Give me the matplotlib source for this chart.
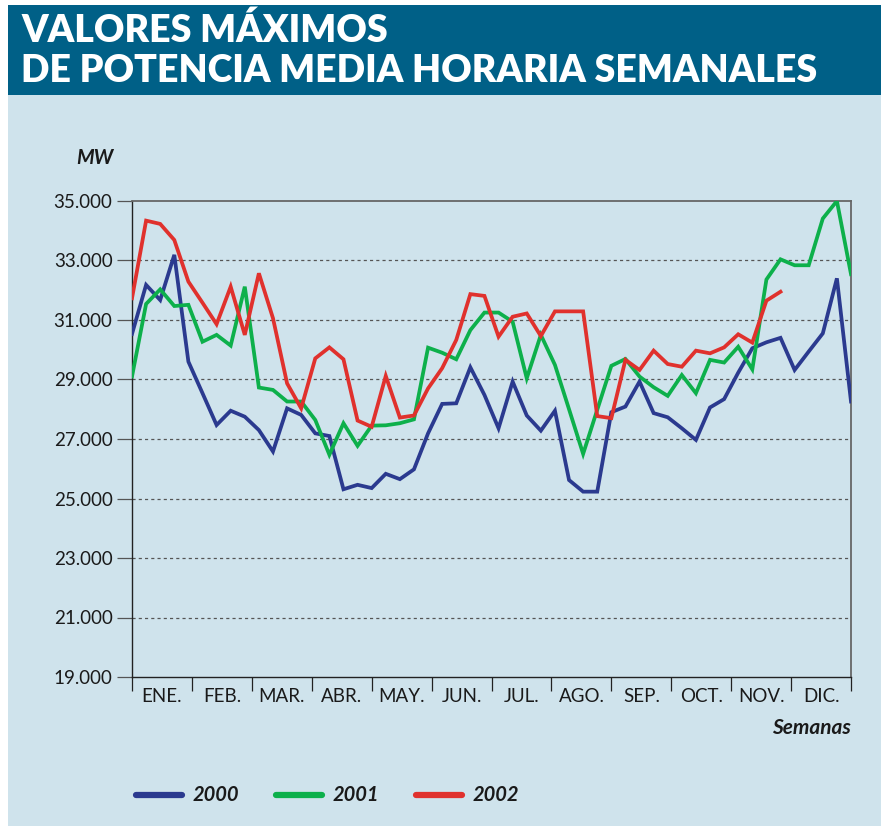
import matplotlib
matplotlib.use("Agg")
import matplotlib.pyplot as plt
from matplotlib.patches import Rectangle
from matplotlib.lines import Line2D
import numpy as np

W, H = 888, 826
OUTPUT = "out.png"

TITLE_1 = "VALORES MÁXIMOS"
TITLE_2 = "DE POTENCIA MEDIA HORARIA SEMANALES"
MONTHS = ["ENE.", "FEB.", "MAR.", "ABR.", "MAY.", "JUN.", "JUL.", "AGO.",
          "SEP.", "OCT.", "NOV.", "DIC."]
Y_TICKS = [19000, 21000, 23000, 25000, 27000, 29000, 31000, 33000, 35000]

# weekly maxima (MW)
mw_2000 = [30530, 32180, 31670, 33190, 29600, 28540, 27470, 27950, 27750, 27300,
           26580, 28030, 27810, 27190, 27100, 25310, 25460, 25350, 25830, 25650,
           25980, 27190, 28180, 28200, 29410, 28480, 27360, 28930, 27790, 27280,
           27950, 25620, 25230, 25230, 27900, 28090, 28930, 27870, 27730, 27360,
           26970, 28060, 28340, 29230, 30050, 30250, 30400, 29320, 29940, 30550,
           32400, 28260]
mw_2001 = [29100, 31540, 32030, 31470, 31510, 30270, 30500, 30140, 32120, 28730,
           28650, 28260, 28260, 27640, 26470, 27530, 26770, 27450, 27460, 27530,
           27660, 30070, 29900, 29680, 30660, 31250, 31250, 30940, 29040, 30500,
           29490, 28000, 26500, 27980, 29460, 29690, 29100, 28740, 28450, 29150,
           28540, 29660, 29570, 30100, 29340, 32360, 33040, 32840, 32840, 34410,
           35000, 32540]
mw_2002 = [31730, 34340, 34230, 33690, 32290, 31580, 30860, 32120, 30500, 32570,
           31060, 28870, 28030, 29710, 30080, 29680, 27620, 27410, 29120, 27720,
           27790, 28700, 29380, 30330, 31870, 31810, 30440, 31110, 31220, 30460,
           31290, 31290, 31290, 27770, 27700, 29660, 29320, 29970, 29520, 29430,
           29970, 29880, 30080, 30520, 30240, 31650, 31950]

SERIES = [("2000", mw_2000, "#2b3a8f"), ("2001", mw_2001, "#0db04b"),
          ("2002", mw_2002, "#e0312d")]

BG = "#cfe3ec"
BANNER = "#006087"
FONT = "Lato"


def fx(x):
    return x / W


def fy(y):
    return 1 - y / H


fig = plt.figure(figsize=(W / 100, H / 100), dpi=100, facecolor="white")

# background panel and title banner
fig.patches.append(Rectangle((fx(8), 0), fx(873), fy(5), transform=fig.transFigure,
                             facecolor=BG, edgecolor="none", zorder=-10))
fig.patches.append(Rectangle((fx(8), fy(95)), fx(873), fy(5) - fy(95),
                             transform=fig.transFigure, facecolor=BANNER,
                             edgecolor="none", zorder=-9))
fig.text(fx(21), fy(30), TITLE_1, color="white", fontsize=27, fontweight="heavy",
         family=FONT, va="center", ha="left")
fig.text(fx(21), fy(71), TITLE_2, color="white", fontsize=27, fontweight="heavy",
         family=FONT, va="center", ha="left")

left, right, top, bottom = 132, 851, 201, 677
ax = fig.add_axes([fx(left), fy(bottom), fx(right - left), fy(top) - fy(bottom)])
ax.set_facecolor(BG)

weeks_total = len(mw_2000) - 1
for name, vals, col in SERIES:
    ax.plot(np.arange(len(vals)), vals, color=col, lw=2.7, solid_joinstyle="miter",
            zorder=3)

ax.set_xlim(0, weeks_total)
ax.set_ylim(19000, 35000)

# dashed grid
for v in Y_TICKS[1:-1]:
    ax.axhline(v, color="#555555", lw=0.9, ls=(0, (2.5, 2.5)), zorder=1)

ax.set_yticks(Y_TICKS)
ax.set_yticklabels([f"{v:,}".replace(",", ".") for v in Y_TICKS], family=FONT,
                   fontsize=13.5, color="#1a1a1a")
for lab in ax.get_yticklabels():
    lab.set_y(lab.get_position()[1])
ax.tick_params(axis="y", length=11, width=0.9, color="#555555", pad=3)

bounds = np.linspace(0, weeks_total, 13)
ax.set_xticks(bounds)
ax.set_xticklabels([])
ax.set_xticks((bounds[:-1] + bounds[1:]) / 2, minor=True)
ax.set_xticklabels(MONTHS, minor=True, family=FONT, fontsize=13.5, color="#1a1a1a")
ax.tick_params(axis="x", which="major", length=10, width=0.9, color="#222222")
ax.tick_params(axis="x", which="minor", length=0, pad=8)

for s in ["left", "bottom"]:
    ax.spines[s].set_color("#222222")
    ax.spines[s].set_linewidth(1.0)
ax.spines["top"].set_color("#666666")
ax.spines["top"].set_linewidth(1.3)
ax.spines["right"].set_color("#666666")
ax.spines["right"].set_linewidth(1.3)

fig.text(fx(113), fy(158), "MW", family=FONT, fontsize=14.5, fontweight="bold",
         fontstyle="italic", ha="right", va="center", color="#1a1a1a")
fig.text(fx(851), fy(728), "Semanas", family=FONT, fontsize=15, fontweight="bold",
         fontstyle="italic", ha="right", va="center", color="#1a1a1a")

# legend
leg_x = [133, 273, 413]
for (name, vals, col), x0 in zip(SERIES, leg_x):
    fig.add_artist(Line2D([fx(x0 + 3), fx(x0 + 49)], [fy(795), fy(795)], color=col,
                          lw=4.5, solid_capstyle="round", transform=fig.transFigure))
    fig.text(fx(x0 + 60), fy(795), name, family=FONT, fontsize=14.5, fontweight="bold",
             fontstyle="italic", ha="left", va="center", color="#1a1a1a")

fig.savefig(OUTPUT, dpi=100, facecolor="white")
